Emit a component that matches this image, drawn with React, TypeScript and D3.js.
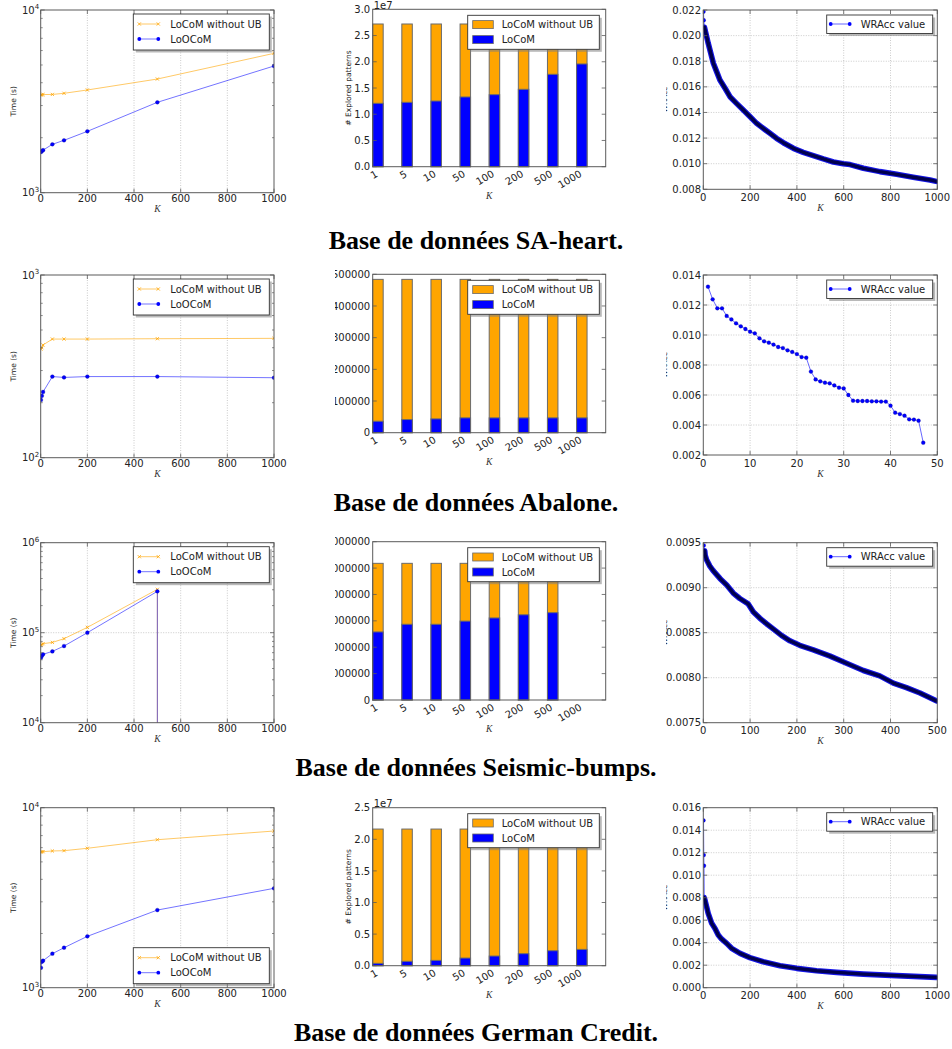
import React from 'react';
import * as d3 from 'd3';

// ---------------- data ----------------
const K_VALUES = [1, 5, 10, 50, 100, 200, 500, 1000];
const BAR_CATEGORIES = ['1', '5', '10', '50', '100', '200', '500', '1000'];
const NAME_NOUB = 'LoCoM without UB';
const NAME_LOOCOM = 'LoOCoM';
const NAME_LOCOM = 'LoCoM';
const NAME_WRACC = 'WRAcc value';
const TITLES = [
  'Base de données SA-heart.',
  'Base de données Abalone.',
  'Base de données Seismic-bumps.',
  'Base de données German Credit.',
];

// Time (s), log scale
const SA_TIME_NOUB = [3430, 3440, 3445, 3450, 3500, 3650, 4190, 5790];
const SA_TIME_LOOCOM = [1670, 1690, 1710, 1840, 1935, 2167, 3124, 4937];
const AB_TIME_NOUB = [393, 400, 414, 446, 446, 446, 448, 450];
const AB_TIME_LOOCOM = [207, 218, 229, 278, 275, 278, 278, 274];
const SB_TIME_NOUB = [72900, 74000, 75500, 78000, 85800, 114600, 303000, 0];
const SB_TIME_LOOCOM = [52800, 55500, 57500, 62000, 71100, 100000, 288000, 0];
const GC_TIME_NOUB = [5650, 5700, 5700, 5750, 5770, 5950, 6640, 7420];
const GC_TIME_LOOCOM = [1290, 1394, 1413, 1545, 1668, 1929, 2700, 3564];

// # explored patterns
const SA_BAR_NOUB = [27200000, 27200000, 27200000, 27200000, 27200000, 27200000, 27200000, 27200000];
const SA_BAR_LOCOM = [12080000, 12270000, 12520000, 13290000, 13730000, 14750000, 17610000, 19580000];
const AB_BAR_NOUB = [484000, 484000, 484000, 484000, 484000, 484000, 484000, 484000];
const AB_BAR_LOCOM = [36200, 41500, 43600, 46800, 46800, 46800, 46800, 46800];
const SB_BAR_NOUB = [5180000, 5180000, 5180000, 5180000, 5180000, 5180000, 5180000, 0];
const SB_BAR_LOCOM = [2580000, 2870000, 2870000, 2990000, 3110000, 3230000, 3310000, 0];
const GC_BAR_NOUB = [21620000, 21620000, 21620000, 21620000, 21620000, 21620000, 21620000, 21620000];
const GC_BAR_LOCOM = [370000, 690000, 840000, 1210000, 1530000, 1900000, 2370000, 2580000];

// WRAcc values
const SA_WRACC_K = [1, 2, 5, 21, 43, 57, 71, 93, 114, 142, 171, 200, 228, 256, 285, 313, 342, 385, 427, 470, 513, 556, 598, 627, 684, 755, 826, 897, 969, 1000];
const SA_WRACC_V = [0.02187, 0.0212, 0.02065, 0.0194, 0.01784, 0.01719, 0.01654, 0.01589, 0.01523, 0.01471, 0.01419, 0.01367, 0.01315, 0.01276, 0.01237, 0.01198, 0.01164, 0.0112, 0.01089, 0.01063, 0.01037, 0.01013, 0.0100, 0.00993, 0.00964, 0.00938, 0.00917, 0.00894, 0.00873, 0.0086];
const AB_WRACC_K = [1, 2, 3, 4, 5, 6, 7, 8, 9, 10, 11, 12, 13, 14, 15, 16, 17, 18, 19, 20, 21, 22, 23, 24, 25, 26, 27, 28, 29, 30, 31, 32, 33, 34, 35, 36, 37, 38, 39, 40, 41, 42, 43, 44, 45, 46, 47];
const AB_WRACC_V = [0.01322, 0.01238, 0.01178, 0.01178, 0.01127, 0.01104, 0.01078, 0.01058, 0.0104, 0.01022, 0.01011, 0.00978, 0.00958, 0.00949, 0.00936, 0.0092, 0.00913, 0.00898, 0.00887, 0.00873, 0.00853, 0.00849, 0.00756, 0.00704, 0.00691, 0.00682, 0.00678, 0.00664, 0.00649, 0.00644, 0.006, 0.00562, 0.0056, 0.0056, 0.0056, 0.00558, 0.00558, 0.00556, 0.00556, 0.00529, 0.00482, 0.00473, 0.00462, 0.00438, 0.00436, 0.00429, 0.00282];
const SB_WRACC_K = [1, 3, 4, 7, 14, 21, 36, 50, 64, 78, 96, 107, 121, 135, 150, 167, 185, 206, 235, 271, 306, 342, 377, 406, 434, 463, 499];
const SB_WRACC_V = [0.00947, 0.00941, 0.00936, 0.00931, 0.00924, 0.00919, 0.0091, 0.00903, 0.00894, 0.00888, 0.00882, 0.00873, 0.00866, 0.0086, 0.00854, 0.00847, 0.00841, 0.00836, 0.00831, 0.00824, 0.00816, 0.00808, 0.00802, 0.00794, 0.00789, 0.00783, 0.00774];
const GC_WRACC_K = [1, 2, 3, 4, 7, 14, 21, 36, 50, 64, 78, 100, 121, 157, 199, 256, 328, 399, 484, 570, 684, 826, 997];
const GC_WRACC_V = [0.01487, 0.01179, 0.01084, 0.008, 0.00779, 0.0072, 0.00661, 0.00572, 0.00527, 0.00468, 0.00433, 0.00394, 0.0035, 0.00305, 0.00267, 0.00231, 0.00196, 0.00172, 0.00151, 0.00136, 0.00121, 0.00107, 0.00092];

// ---------------- style ----------------
const FONT = '"DejaVu Sans", sans-serif';
const ORANGE = '#ffa500';
const BLUE = '#0000ff';
const SPINE = '#5a5a5a';
const GRID = '#b4b4b4';
const TXT = '#222';
const COL1: [number, number] = [40.7, 274];
const COL2: [number, number] = [372.7, 605.7];
const COL3: [number, number] = [703.3, 937.3];

function Legend({ x, y, w, h, children }: any) {
  return (
    <g>
      <rect x={x + 2.5} y={y + 2.5} width={w} height={h} fill="#808080" opacity={0.55} />
      <rect x={x} y={y} width={w} height={h} fill="#fff" stroke="#333" strokeWidth={0.9} />
      {children}
    </g>
  );
}

function XMark({ cx, cy }: { cx: number; cy: number }) {
  const s = 1.6;
  return (
    <g stroke={ORANGE} strokeWidth={0.8}>
      <line x1={cx - s} y1={cy - s} x2={cx + s} y2={cy + s} />
      <line x1={cx - s} y1={cy + s} x2={cx + s} y2={cy - s} />
    </g>
  );
}

type TimeProps = {
  id: string; top: number; bottom: number; yDomain: [number, number];
  noub: number[]; loocom: number[]; legendAtBottom?: boolean;
};

function TimePanel({ id, top, bottom, yDomain, noub, loocom, legendAtBottom }: TimeProps) {
  const [l, r] = COL1;
  const x = d3.scaleLinear().domain([0, 1000]).range([l, r]);
  const y = d3.scaleLog().domain(yDomain).range([bottom, top]);
  const xTicks = d3.range(0, 1001, 200);
  const e0 = Math.round(Math.log10(yDomain[0]));
  const e1 = Math.round(Math.log10(yDomain[1]));
  const majors = d3.range(e0, e1 + 1);
  const minors: number[] = [];
  for (let e = e0; e < e1; e++) for (let m = 2; m <= 9; m++) minors.push(m * Math.pow(10, e));
  const pathOf = (vals: number[]) => {
    let d = '';
    vals.forEach((v, i) => {
      if (v > 0) d += (i === 0 ? 'M' : 'L') + x(K_VALUES[i]) + ',' + y(v);
      else d += 'L' + x(K_VALUES[i - 1]) + ',' + (bottom + 5);
    });
    return d;
  };
  const pts = (vals: number[]) => vals.map((v, i) => ({ v, k: K_VALUES[i] })).filter((p) => p.v > 0);
  const lgW = 136, lgH = 36;
  const lgX = r - 4.7 - lgW;
  const lgY = legendAtBottom ? bottom - 4 - lgH : top + 4;
  return (
    <g>
      <clipPath id={id}><rect x={l} y={top} width={r - l} height={bottom - top} /></clipPath>
      {xTicks.slice(1, -1).map((t) => (
        <line key={'gx' + t} x1={x(t)} x2={x(t)} y1={top} y2={bottom} stroke={GRID} strokeWidth={0.7} strokeDasharray="1,1.5" />
      ))}
      {majors.slice(1, -1).map((e) => (
        <line key={'gy' + e} x1={l} x2={r} y1={y(Math.pow(10, e))} y2={y(Math.pow(10, e))} stroke={GRID} strokeWidth={0.7} strokeDasharray="1,1.5" />
      ))}
      <g clipPath={`url(#${id})`}>
        <path d={pathOf(noub)} fill="none" stroke={ORANGE} strokeOpacity={0.6} strokeWidth={1} />
        {pts(noub).map((p) => <XMark key={'o' + p.k} cx={x(p.k)} cy={y(p.v)} />)}
        <path d={pathOf(loocom)} fill="none" stroke={BLUE} strokeOpacity={0.55} strokeWidth={1} />
        {pts(loocom).map((p) => <circle key={'b' + p.k} cx={x(p.k)} cy={y(p.v)} r={1.9} fill={BLUE} stroke="#00008b" strokeWidth={0.3} />)}
      </g>
      <rect x={l} y={top} width={r - l} height={bottom - top} fill="none" stroke={SPINE} strokeWidth={1} />
      {xTicks.map((t) => (
        <g key={'xt' + t} stroke={SPINE} strokeWidth={0.8}>
          <line x1={x(t)} x2={x(t)} y1={bottom} y2={bottom - 4} />
          <line x1={x(t)} x2={x(t)} y1={top} y2={top + 4} />
        </g>
      ))}
      {majors.map((e) => (
        <g key={'yt' + e} stroke={SPINE} strokeWidth={0.8}>
          <line x1={l} x2={l + 4} y1={y(Math.pow(10, e))} y2={y(Math.pow(10, e))} />
          <line x1={r} x2={r - 4} y1={y(Math.pow(10, e))} y2={y(Math.pow(10, e))} />
        </g>
      ))}
      {minors.map((m) => (
        <g key={'ym' + m} stroke={SPINE} strokeWidth={0.7}>
          <line x1={l} x2={l + 2} y1={y(m)} y2={y(m)} />
          <line x1={r} x2={r - 2} y1={y(m)} y2={y(m)} />
        </g>
      ))}
      {xTicks.map((t) => (
        <text key={'xl' + t} x={x(t)} y={bottom + 9} textAnchor="middle" fontSize={10} fontFamily={FONT} fill={TXT}>{t}</text>
      ))}
      {majors.map((e) => (
        <text key={'yl' + e} x={l - 1.5} y={y(Math.pow(10, e)) + 3.6} textAnchor="end" fontSize={10} fontFamily={FONT} fill={TXT}>
          10<tspan dy={-4.5} fontSize={7}>{e}</tspan>
        </text>
      ))}
      <text transform={`translate(13.5,${(top + bottom) / 2}) rotate(-90)`} textAnchor="middle" dominantBaseline="middle" fontSize={7.5} fontFamily={FONT} fill={TXT}>Time (s)</text>
      <text x={(l + r) / 2} y={bottom + 19} textAnchor="middle" fontSize={9.5} fontStyle="italic" fontFamily='"Liberation Serif", serif' fill="#333">K</text>
      <Legend x={lgX} y={lgY} w={lgW} h={lgH}>
        <line x1={lgX + 6} x2={lgX + 25} y1={lgY + 10} y2={lgY + 10} stroke={ORANGE} strokeOpacity={0.6} />
        <XMark cx={lgX + 6} cy={lgY + 10} />
        <XMark cx={lgX + 25} cy={lgY + 10} />
        <text x={lgX + 37} y={lgY + 10} dominantBaseline="central" fontSize={10} fontFamily={FONT} fill={TXT}>{NAME_NOUB}</text>
        <line x1={lgX + 6} x2={lgX + 25} y1={lgY + 25} y2={lgY + 25} stroke={BLUE} strokeOpacity={0.55} />
        <circle cx={lgX + 6} cy={lgY + 25} r={1.9} fill={BLUE} />
        <circle cx={lgX + 25} cy={lgY + 25} r={1.9} fill={BLUE} />
        <text x={lgX + 37} y={lgY + 25} dominantBaseline="central" fontSize={10} fontFamily={FONT} fill={TXT}>{NAME_LOOCOM}</text>
      </Legend>
    </g>
  );
}

type BarProps = {
  id: string; top: number; bottom: number; yMax: number; yStep: number;
  scaleDiv: number; decimals: number; noub: number[]; locom: number[];
  showYLabel?: boolean; offsetText?: string;
};

function BarPanel({ id, top, bottom, yMax, yStep, scaleDiv, decimals, noub, locom, showYLabel, offsetText }: BarProps) {
  const [l, r] = COL2;
  const x = d3.scaleLinear().domain([0, BAR_CATEGORIES.length]).range([l, r]);
  const y = d3.scaleLinear().domain([0, yMax]).range([bottom, top]);
  const W = 0.36;
  const bw = x(W) - x(0);
  const yTicks = d3.range(0, yMax + yStep / 2, yStep);
  const lgW = 131.6, lgH = 34;
  const lgX = r - 6.4 - lgW;
  const lgY = top + 6;
  return (
    <g clipPath={`url(#${id})`}>
      <clipPath id={id}><rect x={335} y={top - 12} width={952 - 335} height={bottom - top + 45} /></clipPath>
      {noub.map((v, i) => (
        <rect key={'o' + i} x={x(i)} y={y(v)} width={bw} height={bottom - y(v)} fill={ORANGE} stroke="#6b6b6b" strokeWidth={1} />
      ))}
      {locom.map((v, i) => (
        <rect key={'b' + i} x={x(i)} y={y(v)} width={bw} height={bottom - y(v)} fill={BLUE} stroke="#6b6b6b" strokeWidth={1} />
      ))}
      <rect x={l} y={top} width={r - l} height={bottom - top} fill="none" stroke={SPINE} strokeWidth={1} />
      {yTicks.map((t) => (
        <g key={'yt' + t} stroke={SPINE} strokeWidth={0.8}>
          <line x1={l} x2={l + 4} y1={y(t)} y2={y(t)} />
          <line x1={r} x2={r - 4} y1={y(t)} y2={y(t)} />
        </g>
      ))}
      {yTicks.map((t) => (
        <text key={'yl' + t} x={l - 2.5} y={y(t) + 3.6} textAnchor="end" fontSize={10} fontFamily={FONT} fill={TXT}>
          {(t / scaleDiv).toFixed(decimals)}
        </text>
      ))}
      {BAR_CATEGORIES.map((c, i) => (
        <text key={'xl' + c} transform={`translate(${x(i + W / 2) - 3},${bottom + 3}) rotate(-30)`} textAnchor="end" dominantBaseline="hanging" fontSize={10} fontFamily={FONT} fill={TXT}>{c}</text>
      ))}
      {offsetText && (
        <text x={l + 1} y={top - 0.5} fontSize={10} fontFamily={FONT} fill={TXT}>{offsetText}</text>
      )}
      {showYLabel && (
        <text transform={`translate(349,${(top + bottom) / 2}) rotate(-90)`} textAnchor="middle" dominantBaseline="middle" fontSize={7.5} fontFamily={FONT} fill={TXT}># Explored patterns</text>
      )}
      <text x={(l + r) / 2} y={bottom + 32} textAnchor="middle" fontSize={9.5} fontStyle="italic" fontFamily='"Liberation Serif", serif' fill="#333">K</text>
      <Legend x={lgX} y={lgY} w={lgW} h={lgH}>
        <rect x={lgX + 5} y={lgY + 5.3} width={20.6} height={8} fill={ORANGE} stroke="#6b6b6b" strokeWidth={0.8} />
        <text x={lgX + 34} y={lgY + 9.3} dominantBaseline="central" fontSize={10} fontFamily={FONT} fill={TXT}>{NAME_NOUB}</text>
        <rect x={lgX + 5} y={lgY + 20.3} width={20.6} height={8} fill={BLUE} stroke="#6b6b6b" strokeWidth={0.8} />
        <text x={lgX + 34} y={lgY + 24.3} dominantBaseline="central" fontSize={10} fontFamily={FONT} fill={TXT}>{NAME_LOCOM}</text>
      </Legend>
    </g>
  );
}

type WraccProps = {
  id: string; top: number; bottom: number; xMax: number; xStep: number;
  yMin: number; yMax: number; yStep: number; decimals: number;
  ks: number[]; vs: number[]; denseFrom: number;
};

function WraccPanel({ id, top, bottom, xMax, xStep, yMin, yMax, yStep, decimals, ks, vs, denseFrom }: WraccProps) {
  const [l, r] = COL3;
  const x = d3.scaleLinear().domain([0, xMax]).range([l, r]);
  const y = d3.scaleLinear().domain([yMin, yMax]).range([bottom, top]);
  const xTicks = d3.range(0, xMax + xStep / 2, xStep);
  const nY = Math.round((yMax - yMin) / yStep);
  const yTicks = d3.range(0, nY + 1).map((i) => yMin + i * yStep);
  const pts = ks.map((k, i) => ({ k, v: vs[i], i }));
  const line = d3.line<{ k: number; v: number }>().x((p) => x(p.k)).y((p) => y(p.v));
  const dense = denseFrom >= 0 ? pts.filter((p) => p.i >= denseFrom) : [];
  const sparse = denseFrom >= 0 ? pts.filter((p) => p.i < denseFrom) : pts;
  const lgW = 106, lgH = 18.5;
  const lgX = r - 4.6 - lgW;
  const lgY = top + 5;
  const clipData = id + 'd';
  return (
    <g clipPath={`url(#${id})`}>
      <clipPath id={id}><rect x={666} y={top - 12} width={952 - 666} height={bottom - top + 40} /></clipPath>
      <clipPath id={clipData}><rect x={l} y={top} width={r - l} height={bottom - top} /></clipPath>
      {xTicks.slice(1, -1).map((t) => (
        <line key={'gx' + t} x1={x(t)} x2={x(t)} y1={top} y2={bottom} stroke={GRID} strokeWidth={0.7} strokeDasharray="1,1.5" />
      ))}
      {yTicks.slice(1, -1).map((t) => (
        <line key={'gy' + t} x1={l} x2={r} y1={y(t)} y2={y(t)} stroke={GRID} strokeWidth={0.7} strokeDasharray="1,1.5" />
      ))}
      <g clipPath={`url(#${clipData})`}>
        <path d={line(pts) || ''} fill="none" stroke={BLUE} strokeOpacity={0.6} strokeWidth={1} />
        {dense.map((p) => <circle key={'dm' + p.i} cx={x(p.k)} cy={y(p.v)} r={2} fill={BLUE} />)}
        {dense.length > 0 && (
          <g fill="none" strokeLinejoin="round" strokeLinecap="round">
            <path d={line(dense) || ''} stroke="#1414e6" strokeWidth={5.6} />
            <path d={line(dense) || ''} stroke="#00004e" strokeWidth={3.4} />
          </g>
        )}
        {sparse.map((p) => <circle key={'sm' + p.i} cx={x(p.k)} cy={y(p.v)} r={1.9} fill={BLUE} stroke="#00008b" strokeWidth={0.3} />)}
      </g>
      <rect x={l} y={top} width={r - l} height={bottom - top} fill="none" stroke={SPINE} strokeWidth={1} />
      {xTicks.map((t) => (
        <g key={'xt' + t} stroke={SPINE} strokeWidth={0.8}>
          <line x1={x(t)} x2={x(t)} y1={bottom} y2={bottom - 4} />
          <line x1={x(t)} x2={x(t)} y1={top} y2={top + 4} />
        </g>
      ))}
      {yTicks.map((t) => (
        <g key={'yt' + t} stroke={SPINE} strokeWidth={0.8}>
          <line x1={l} x2={l + 4} y1={y(t)} y2={y(t)} />
          <line x1={r} x2={r - 4} y1={y(t)} y2={y(t)} />
        </g>
      ))}
      {xTicks.map((t) => (
        <text key={'xl' + t} x={x(t)} y={bottom + 11.5} textAnchor="middle" fontSize={10} fontFamily={FONT} fill={TXT}>{t}</text>
      ))}
      {yTicks.map((t) => (
        <text key={'yl' + t} x={l - 2.3} y={y(t) + 3.6} textAnchor="end" fontSize={10} fontFamily={FONT} fill={TXT}>{t.toFixed(decimals)}</text>
      ))}
      <text transform={`translate(665,${(top + bottom) / 2}) rotate(-90)`} textAnchor="middle" dominantBaseline="middle" fontSize={7.5} fontFamily={FONT} fill={TXT}>WRAcc</text>
      <text x={(l + r) / 2} y={bottom + 21.5} textAnchor="middle" fontSize={9.5} fontStyle="italic" fontFamily='"Liberation Serif", serif' fill="#333">K</text>
      <Legend x={lgX} y={lgY} w={lgW} h={lgH}>
        <line x1={lgX + 4} x2={lgX + 23} y1={lgY + 9} y2={lgY + 9} stroke={BLUE} strokeOpacity={0.6} />
        <circle cx={lgX + 4} cy={lgY + 9} r={1.9} fill={BLUE} />
        <circle cx={lgX + 23} cy={lgY + 9} r={1.9} fill={BLUE} />
        <text x={lgX + 34} y={lgY + 9} dominantBaseline="central" fontSize={10} fontFamily={FONT} fill={TXT}>{NAME_WRACC}</text>
      </Legend>
    </g>
  );
}

const TITLE_Y = [248.5, 510.5, 775.5, 1040.5];

export default function App() {
  return (
    <svg width={952} height={1049} viewBox="0 0 952 1049" style={{ position: 'absolute', left: 0, top: 0, background: '#fff' }}>
      <rect x={0} y={0} width={952} height={1049} fill="#fff" />
      {/* Row 1: SA-heart */}
      <TimePanel id="t1" top={10} bottom={192.7} yDomain={[1e3, 1e4]} noub={SA_TIME_NOUB} loocom={SA_TIME_LOOCOM} />
      <BarPanel id="b1" top={9.3} bottom={166.7} yMax={30000000} yStep={5000000} scaleDiv={1e7} decimals={1} noub={SA_BAR_NOUB} locom={SA_BAR_LOCOM} showYLabel offsetText="1e7" />
      <WraccPanel id="w1" top={10} bottom={189.3} xMax={1000} xStep={200} yMin={0.008} yMax={0.022} yStep={0.002} decimals={3} ks={SA_WRACC_K} vs={SA_WRACC_V} denseFrom={2} />
      {/* Row 2: Abalone */}
      <TimePanel id="t2" top={275} bottom={457.7} yDomain={[1e2, 1e3]} noub={AB_TIME_NOUB} loocom={AB_TIME_LOOCOM} />
      <BarPanel id="b2" top={274.3} bottom={432.7} yMax={500000} yStep={100000} scaleDiv={1} decimals={0} noub={AB_BAR_NOUB} locom={AB_BAR_LOCOM} />
      <WraccPanel id="w2" top={275} bottom={455} xMax={50} xStep={10} yMin={0.002} yMax={0.014} yStep={0.002} decimals={3} ks={AB_WRACC_K} vs={AB_WRACC_V} denseFrom={-1} />
      {/* Row 3: Seismic-bumps */}
      <TimePanel id="t3" top={542.7} bottom={722.7} yDomain={[1e4, 1e6]} noub={SB_TIME_NOUB} loocom={SB_TIME_LOOCOM} />
      <BarPanel id="b3" top={541.7} bottom={700} yMax={6000000} yStep={1000000} scaleDiv={1} decimals={0} noub={SB_BAR_NOUB} locom={SB_BAR_LOCOM} />
      <WraccPanel id="w3" top={542.7} bottom={722.7} xMax={500} xStep={100} yMin={0.0075} yMax={0.0095} yStep={0.0005} decimals={4} ks={SB_WRACC_K} vs={SB_WRACC_V} denseFrom={1} />
      {/* Row 4: German Credit */}
      <TimePanel id="t4" top={807.7} bottom={987.7} yDomain={[1e3, 1e4]} noub={GC_TIME_NOUB} loocom={GC_TIME_LOOCOM} legendAtBottom />
      <BarPanel id="b4" top={807.7} bottom={965.7} yMax={25000000} yStep={5000000} scaleDiv={1e7} decimals={1} noub={GC_BAR_NOUB} locom={GC_BAR_LOCOM} showYLabel offsetText="1e7" />
      <WraccPanel id="w4" top={807.7} bottom={987.7} xMax={1000} xStep={200} yMin={0} yMax={0.016} yStep={0.002} decimals={3} ks={GC_WRACC_K} vs={GC_WRACC_V} denseFrom={3} />
      {TITLES.map((t, i) => (
        <text key={t} x={476} y={TITLE_Y[i]} textAnchor="middle" fontSize={26} fontWeight="bold" fontFamily='"Liberation Serif", "Times New Roman", serif' fill="#000">{t}</text>
      ))}
    </svg>
  );
}
